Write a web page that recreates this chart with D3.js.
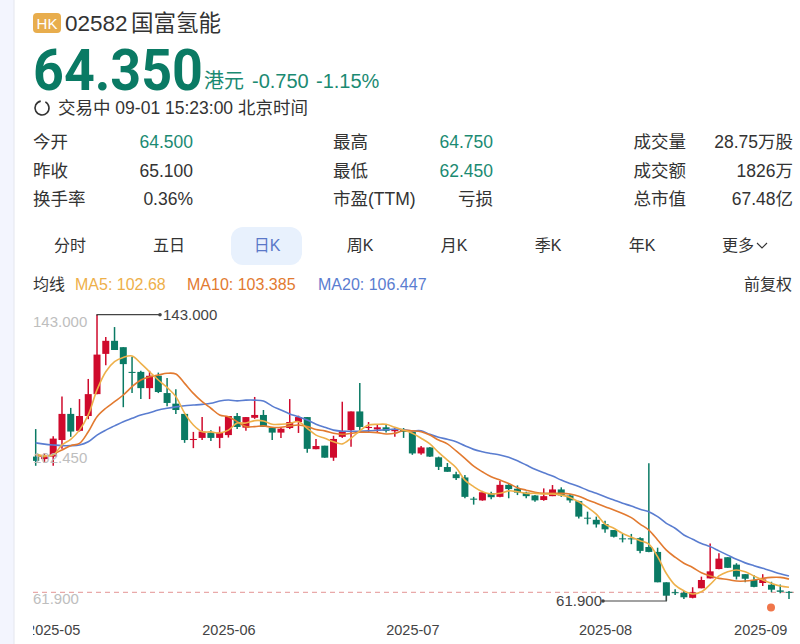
<!DOCTYPE html>
<html><head><meta charset="utf-8">
<script src="https://cdn.jsdelivr.net/npm/d3@7/dist/d3.min.js"></script>
<style>
html,body{margin:0;padding:0;background:#fff;overflow:hidden}
svg{display:block}
text{font-family:"Liberation Sans","Noto Sans CJK SC",sans-serif}
</style></head><body><svg id="c" width="800" height="644"></svg>
<script>
const opens=[102.8,102.1,102.8,107.5,114.9,110.1,114.3,120.5,131.9,135.6,133.8,126.8,126.8,122.2,125.7,120.8,117.8,114.9,107.5,108.1,109.6,108.1,108.9,114.3,111.0,113.8,114.6,110.9,109.6,110.9,112.6,114.0,104.9,105.9,102.5,108.4,110.3,115.6,110.9,110.5,111.1,110.0,110.3,109.9,103.7,105.4,102.6,99.85,97.8,96.9,90.9,90.4,92.4,91.4,94.8,93.7,92.6,91.8,90.5,91.6,93.5,91.8,90.2,85.5,84.9,83.7,82.0,79.65,79.65,79.7,77.2,75.8,67.2,64.4,64.2,62.8,65.5,68.3,70.95,74.3,72.2,69.5,67.85,67.0,66.5,64.9,64.5];
const closes=[101.6,103.0,107.9,114.9,109.9,114.3,120.5,131.7,135.6,133.0,129.0,126.5,122.2,125.7,121.1,118.0,116.0,107.5,107.8,109.9,108.1,109.6,114.3,111.2,114.0,114.6,111.2,109.6,110.7,112.6,114.0,105.0,105.8,102.5,107.8,110.1,115.6,111.2,111.2,111.1,110.1,110.5,109.8,103.7,105.4,102.8,99.9,98.5,96.7,91.4,90.6,92.7,91.3,94.8,93.6,92.6,91.6,90.4,91.6,93.5,91.8,90.4,85.8,85.4,83.6,82.2,80.1,79.45,79.45,76.1,75.8,67.2,63.4,64.2,62.95,64.35,67.85,70.3,73.9,71.3,68.8,68.2,65.9,68.0,65.1,64.5,64.35];
const highs=[110.6,103.8,108.6,119.8,116.6,119.1,124.8,143,136.7,139.5,133.8,131.1,127.1,127.1,126.6,125.1,121.9,114.9,109.8,114.0,110.3,111.35,114.3,115.15,114.0,119.7,116.0,111.0,111.2,119.1,114.4,114.0,107.8,105.9,108.7,118.35,115.6,123.65,112.6,111.75,111.75,110.9,110.9,110.1,105.8,105.5,102.8,101.0,98.5,97.6,91.4,93.1,92.85,95.9,95.0,94.65,92.85,91.9,93.8,94.75,94.1,92.2,90.3,87.2,85.8,84.6,82.0,80.9,80.9,79.95,100.9,77.0,67.2,65.2,64.7,65.8,68.8,78.2,75.4,74.3,72.6,69.5,69.25,69.5,67.35,66.6,64.75];
const lows=[100.2,101.0,100.2,105.0,108.4,109.9,113.4,120.5,128.7,133.0,116.8,120.8,119.1,119.1,120.8,117.1,114.9,106.7,105.2,107.5,107.2,105.2,108.2,110.6,110.1,113.5,111.2,107.5,108.1,110.6,109.5,103.9,104.9,102.5,101.6,108.1,105.6,110.3,109.6,109.6,109.6,108.4,108.1,103.3,103.3,102.7,99.0,98.5,96.2,91.0,89.2,90.3,90.7,91.3,91.0,91.9,91.0,90.0,90.3,91.6,91.4,89.7,85.3,83.6,82.7,81.2,79.9,78.5,78.0,75.4,75.7,67.2,61.9,63.6,62.45,62.65,65.5,68.3,70.9,71.3,68.0,67.2,65.8,66.15,64.4,64.1,62.45];
const ma5=[103.5,103.0,103.25,106.1,107.7,110.3,114.6,121.7,126.85,129.7,130.9,131.3,129.2,126.85,124.5,122.4,119.8,115.1,111.75,109.85,109.8,109.5,110.3,112.3,112.3,113.0,112.9,111.95,111.95,112.2,112.7,110.8,108.9,108.0,107.0,106.4,108.0,110.1,111.75,111.95,111.95,111.1,110.3,109.4,108.0,106.4,104.0,101.8,99.65,96.15,94.3,92.85,92.2,92.4,93.1,92.85,92.4,92.4,92.2,92.2,91.9,91.25,90.0,88.4,86.5,83.7,82.5,81.05,79.95,79.0,78.0,74.45,69.7,66.4,64.8,63.9,64.5,66.6,69.0,70.2,70.7,70.2,69.0,67.85,66.9,66.15,65.8];
const ma10=[103.25,102.8,103.5,104.7,105.9,106.55,109.85,114.1,116.5,118.35,120.25,122.6,124.5,125.4,125.9,126.4,126.2,123.55,120.7,118.35,116.5,114.6,114.1,112.7,111.3,111.3,111.5,111.1,111.1,111.5,111.75,111.3,110.5,110.1,109.4,109.1,109.4,109.7,109.7,109.6,109.2,109.4,110.2,110.1,109.85,108.9,107.5,106.4,104.4,102.3,100.1,98.5,97.1,96.15,95.2,94.0,93.3,92.7,92.4,92.4,92.4,92.2,91.6,90.5,89.6,88.6,87.7,86.7,85.5,83.7,82.0,79.2,76.3,74.3,72.6,71.4,69.9,69.0,68.3,68.0,67.55,67.55,67.85,68.3,68.6,68.6,68.1];
const ma20=[106.7,106.35,106.1,105.9,105.9,106.1,107.0,108.9,110.3,111.5,112.7,113.65,114.6,115.2,116.0,116.5,116.9,117.2,117.4,117.6,117.9,118.55,118.83,118.6,118.8,118.8,118.55,117.1,116.0,114.9,114.1,113.15,112.0,111.1,110.3,110.0,110.0,110.0,110.1,110.25,110.4,110.6,110.4,110.1,110.1,109.1,108.3,107.7,107.0,105.9,104.85,104.2,103.7,103.25,102.6,101.6,100.4,99.2,98.2,97.3,96.15,95.2,94.3,93.3,92.4,91.4,90.5,89.6,88.8,87.9,87.2,85.8,83.9,82.5,80.6,79.4,78.2,77.3,76.1,74.9,73.7,72.7,71.9,71.15,70.4,69.6,69.0];
const dateIdx=[2,22,43,65,83];
const dateLabels=["2025-05","2025-06","2025-07","2025-08","2025-09"];
const priceTicks=[143,102.45,61.9];
const tabs=["分时","五日","日K","周K","月K","季K","年K"];
const stats=[["今开","64.500"],["昨收","65.100"],["换手率","0.36%"],["最高","64.750"],["最低","62.450"],["市盈(TTM)","亏损"],["成交量","28.75万股"],["成交额","1826万"],["总市值","67.48亿"]];

const RED="#cf0a2c",GREEN="#0a7a64",INK="#333",TXTG="#1b8a72";
const svg=d3.select("#c");
svg.append("rect").attr("width",800).attr("height",644).attr("fill","#f3f5fe");
svg.append("rect").attr("x",14).attr("y",-20).attr("width",820).attr("height",700).attr("rx",18).attr("fill","#fff").attr("stroke","#e4e6ee");
function T(x,y,s,size,fill,anchor,weight,fam){const t=svg.append("text").attr("x",x).attr("y",y).attr("font-size",size).attr("fill",fill||INK).text(s);
 if(anchor)t.attr("text-anchor",anchor);if(weight)t.attr("font-weight",weight);if(fam)t.style("font-family",fam);return t;}

// header
svg.append("rect").attr("x",33).attr("y",13).attr("width",28).attr("height",20).attr("rx",4).attr("fill","#e8ad4d");
T(47,28.5,"HK",15,"#fff","middle");
T(65,31,"02582",22.5,"#333");
T(131,31,"国富氢能",22.5,"#333");
T(33,90,"64.350",58,GREEN,null,"700","Roboto").attr("textLength",170).attr("lengthAdjust","spacingAndGlyphs");
T(204,88,"港元",20,TXTG);
T(252,88,"-0.750",20,TXTG);
T(316,88,"-1.15%",20,TXTG);
svg.append("path").attr("transform","translate(42,108)").attr("fill","none").attr("stroke","#333").attr("stroke-width",1.6)
 .attr("d",d3.arc()({innerRadius:7,outerRadius:7,startAngle:0.5,endAngle:6.1}));
T(58,114,"交易中 09-01 15:23:00 北京时间",17.5,"#333");
// stats
const rowY=[148,177,205];
stats.forEach((d,i)=>{
 const col=Math.floor(i/3),r=i%3;
 const lx=[33,333,686][col],vx=[193,493,793][col];
 T(lx,rowY[r],d[0],17.5,"#333",col==2?"end":null);
 const green=(i==0||i==3||i==4);
 T(vx,rowY[r],d[1],17.5,green?TXTG:"#333","end");
});
// tabs
svg.append("rect").attr("x",231).attr("y",227).attr("width",71).attr("height",38).attr("rx",12).attr("fill","#e8f1fd");
[70,169,267,360,454,548,642].forEach((x,i)=>T(x,251,tabs[i],16,i==2?"#5a78c8":"#333","middle"));
T(722,251,"更多",16,"#333");
svg.append("path").attr("d","M757 243l5 5l5-5").attr("fill","none").attr("stroke","#333").attr("stroke-width",1.1);
// legend
T(33,290,"均线",16,"#333");
T(75,290,"MA5: 102.68",16,"#eeb04a");
T(187,290,"MA10: 103.385",16,"#e27a30");
T(318,290,"MA20: 106.447",16,"#5a7dd0");
T(792,290,"前复权",16,"#333","end");

// chart
const x=d3.scaleLinear().domain([0,86]).range([35.7,789]);
const y=d3.scaleLinear().domain([61.9,143]).range([601,314.7]);
svg.append("defs").append("clipPath").attr("id","cl").append("rect").attr("x",33).attr("y",300).attr("width",767).attr("height",344);
const idx=d3.range(opens.length);
const g=svg.append("g").attr("clip-path","url(#cl)");
// dashed last-price line
g.append("line").attr("x1",33).attr("x2",796).attr("y1",y(closes[86])).attr("y2",y(closes[86])).attr("stroke","#e9a9a9").attr("stroke-width",1.2).attr("stroke-dasharray","5 4");
const col=i=>closes[i]>opens[i]?RED:GREEN;
g.selectAll(".w").data(idx).join("line").attr("x1",x).attr("x2",x).attr("y1",i=>y(highs[i])).attr("y2",i=>y(lows[i])).attr("stroke",col).attr("stroke-width",1.5);
g.selectAll(".b").data(idx).join("rect").attr("x",i=>x(i)-3.5).attr("width",7)
 .attr("y",i=>y(Math.max(opens[i],closes[i])))
 .attr("height",i=>Math.max(1,Math.abs(y(opens[i])-y(closes[i])))).attr("fill",col);
const ln=d3.line().x((d,i)=>x(i)).y(d=>y(d)).curve(d3.curveCatmullRom.alpha(0.5));
[[ma20,"#5a7dd0"],[ma10,"#e27a30"],[ma5,"#eeb04a"]].forEach(([a,c])=>{
 g.append("path").attr("d",ln(a)).attr("fill","none").attr("stroke",c).attr("stroke-width",1.6);
});
// y labels
const yAxis=d3.axisRight(y).tickValues(priceTicks).tickFormat(d3.format(".3f")).tickSize(0);
const ya=svg.append("g").attr("transform","translate(30,0)").call(yAxis);
ya.select(".domain").remove();
ya.selectAll("text").attr("font-size",15).attr("fill","#bbb").attr("dy",(d,i)=>[12,4.5,2.5][i]).attr("opacity",.95);
// x labels
const xAxis=d3.axisBottom(x).tickValues(dateIdx).tickFormat((d,i)=>dateLabels[i]).tickSize(0);
const xClip=svg.append("g").attr("clip-path","url(#cl)");
const xa=xClip.append("g").attr("transform","translate(0,622)").call(xAxis);
xa.select(".domain").remove();
xa.selectAll("text").attr("font-size",14.5).attr("fill","#444").attr("dx",(d,i)=>i==4?-2.5:0);
// high/low annotations
const hi=d3.max(highs),lo=d3.min(lows),hiI=highs.indexOf(hi),loI=lows.indexOf(lo);
svg.append("path").attr("fill","none").attr("stroke","#444").attr("stroke-width",1.2)
 .attr("d",`M${x(hiI)} ${y(hi)+1}V${y(hi)}H160`);
svg.append("circle").attr("cx",160).attr("cy",y(hi)).attr("r",1.8).attr("fill","#444");
T(163,y(hi)+5,d3.format(".3f")(hi),15,"#444");
svg.append("path").attr("fill","none").attr("stroke","#444").attr("stroke-width",1.2)
 .attr("d",`M${x(loI)} ${y(closes[loI])}V${y(lo)}H603`);
svg.append("circle").attr("cx",603).attr("cy",y(lo)).attr("r",1.8).attr("fill","#444");
T(602,y(lo)+5,d3.format(".3f")(lo),15,"#444","end");
// marker
svg.append("circle").attr("cx",771).attr("cy",607.5).attr("r",4).attr("fill","#f0764a");
</script></body></html>
